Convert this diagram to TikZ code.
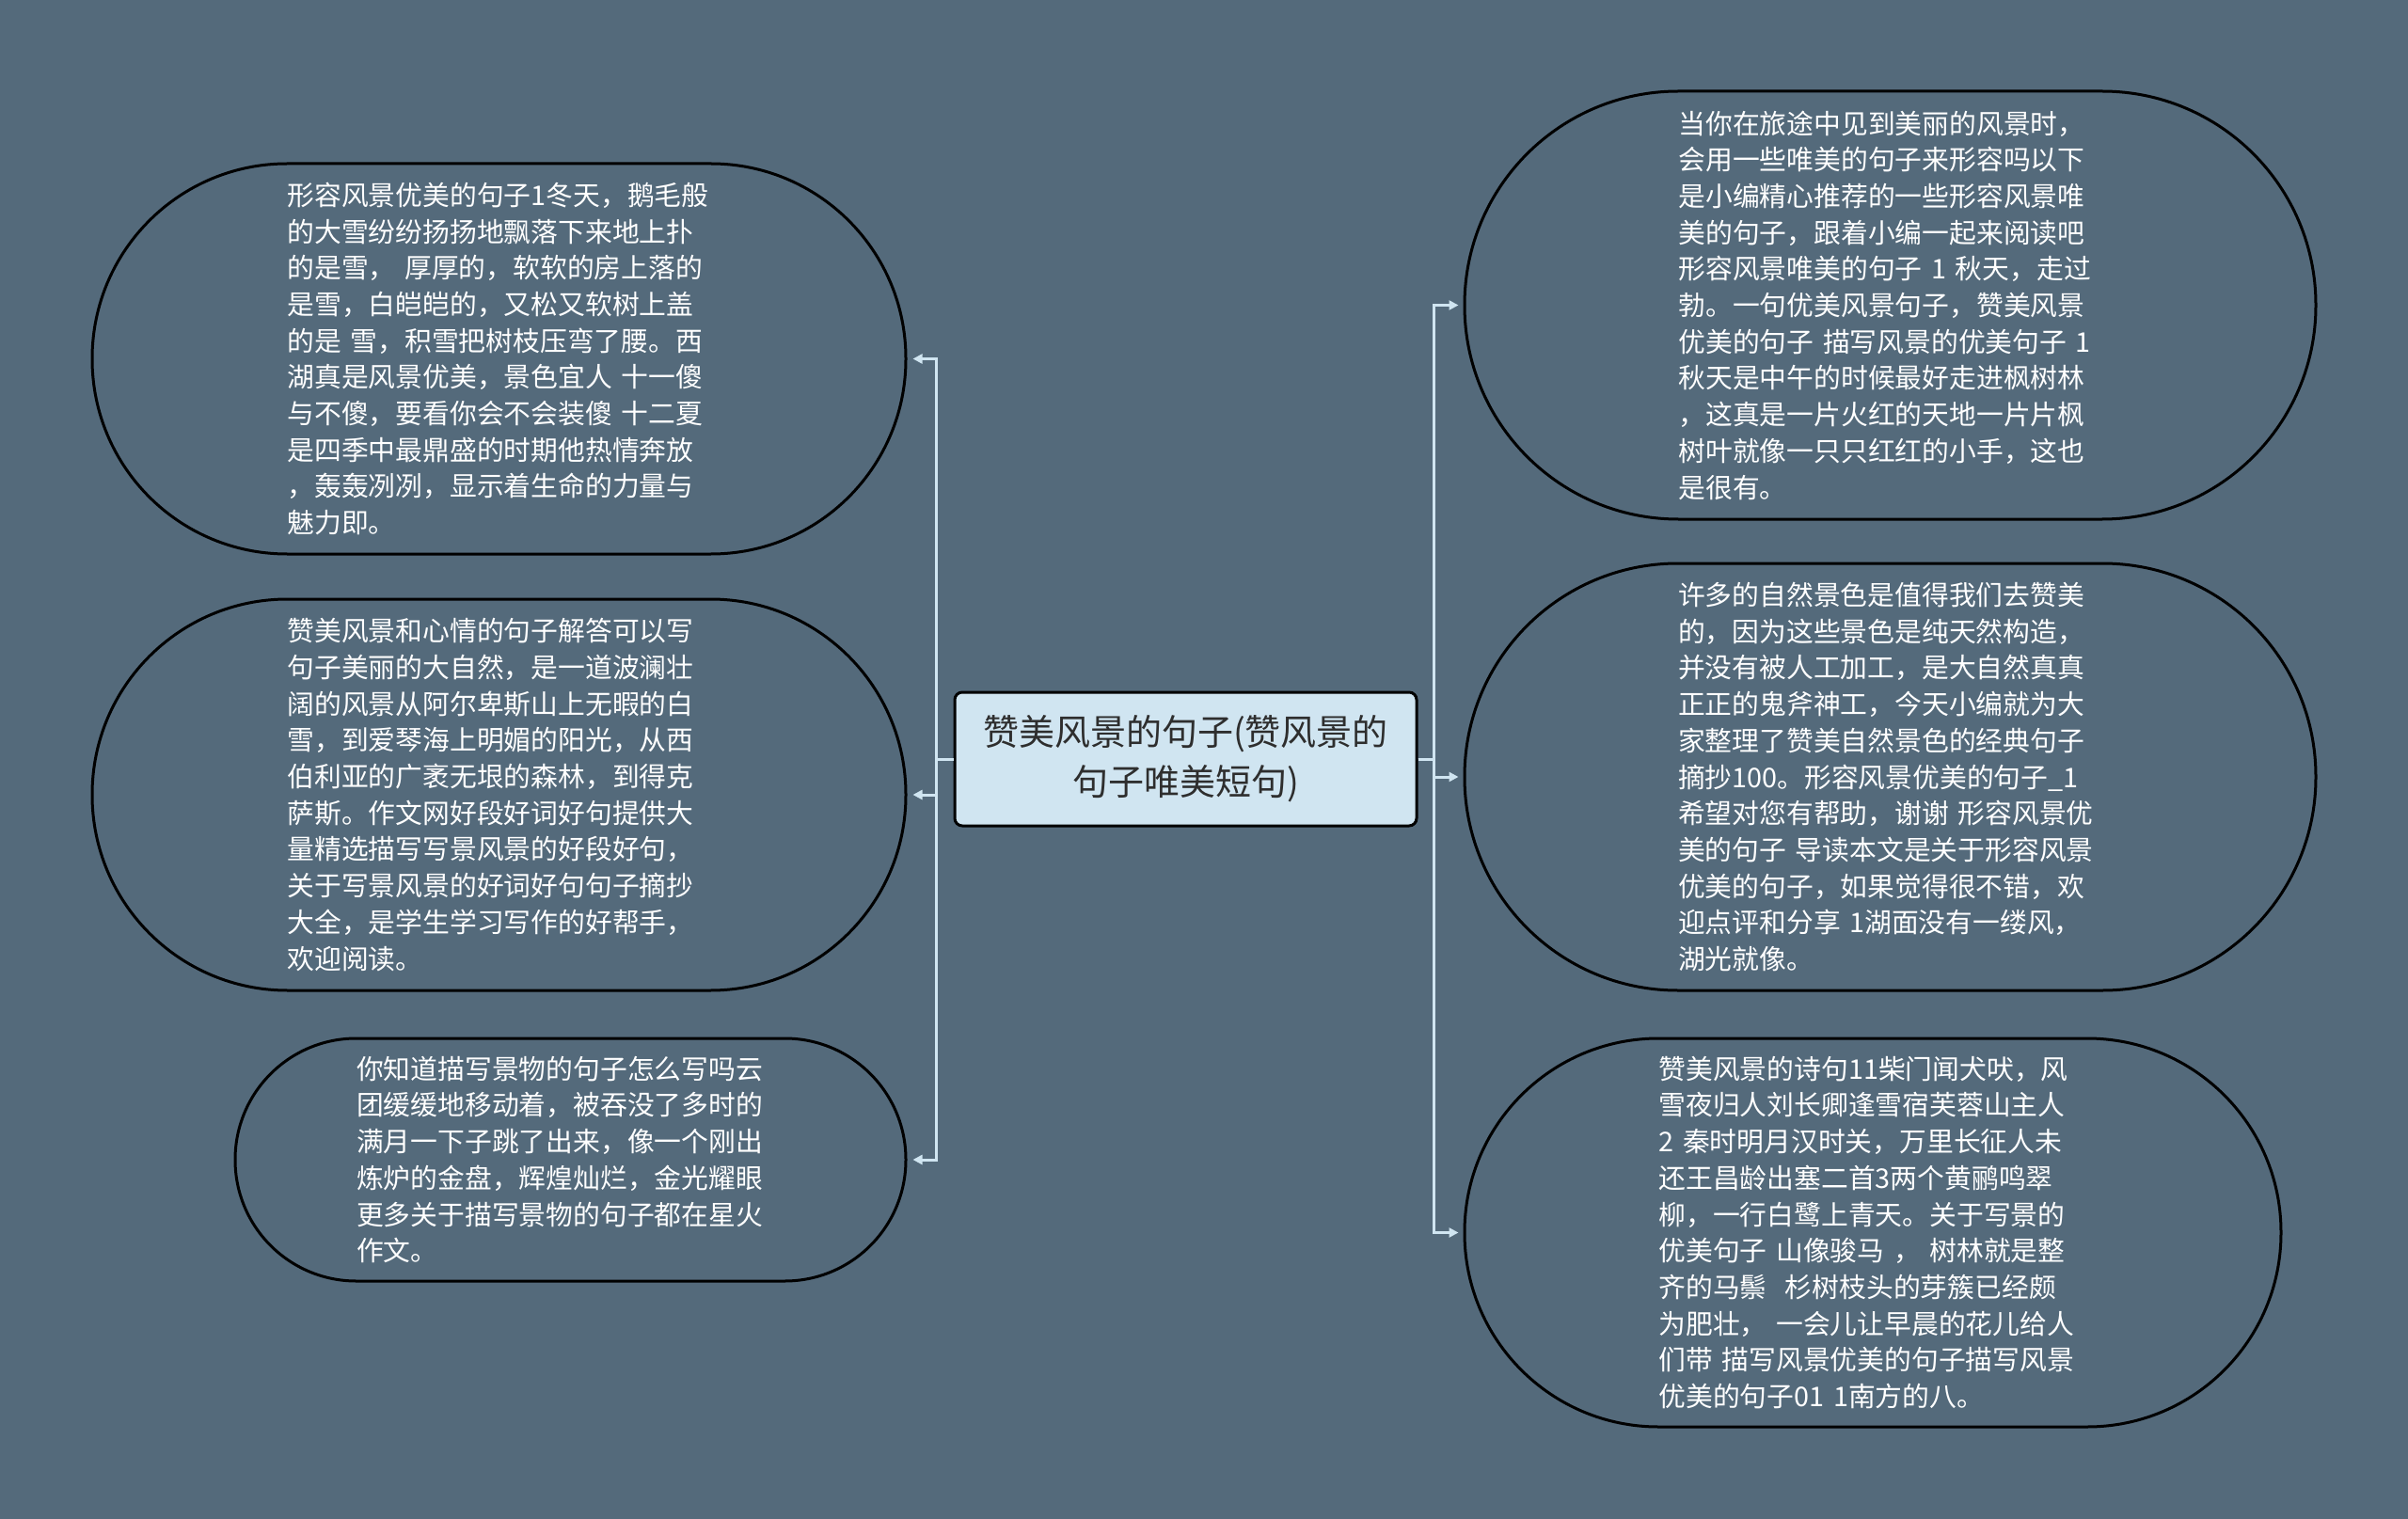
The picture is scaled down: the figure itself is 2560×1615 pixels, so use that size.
\documentclass[tikz,border=0pt]{standalone}
\usepackage{fontspec}
\setmainfont{Noto Sans CJK SC}
\usetikzlibrary{arrows.meta}

\definecolor{bgblue}{HTML}{546A7B}
\definecolor{paleblue}{HTML}{D0E5F1}
\definecolor{darktext}{HTML}{2E2E2E}

\tikzset{
  topic/.style={draw=black, line width=1.5pt, fill=paleblue, rounded corners=4pt,
    text=darktext, align=center, minimum width=245.5pt, minimum height=71pt,
    font=\fontsize{19pt}{26.5pt}\selectfont},
  leaf/.style n args={3}{rectangle, draw=black, line width=1.5pt, text=white,
    align=left, inner sep=0pt, text width=#1, minimum width=#2, minimum height=#3,
    rounded corners={0.499*#3},
    font=\fontsize{14.4pt}{19.35pt}\selectfont},
  link/.style={draw=paleblue, line width=1.5pt, -{Triangle[length=5pt,width=5pt]}},
}

\begin{document}
\begin{tikzpicture}[x=0.5pt,y=-0.5pt]

\fill[bgblue] (0,0) rectangle (2560,1615);
\useasboundingbox (0,0) rectangle (2560,1615);

% centre
\node[topic] (main) at (1260.5,807) {赞美风景的句子(赞风景的\\句子唯美短句)};

% left side
\node[leaf={225pt}{432.5pt}{207.5pt}] (l1) at (530.5,381.5) {形容风景优美的句子1冬天，鹅毛般\\的大雪纷纷扬扬地飘落下来地上扑\\的是雪， 厚厚的，软软的房上落的\\是雪，白皑皑的，又松又软树上盖\\的是 雪，积雪把树枝压弯了腰。西\\湖真是风景优美，景色宜人 十一傻\\与不傻，要看你会不会装傻 十二夏\\是四季中最鼎盛的时期他热情奔放\\，轰轰冽冽，显示着生命的力量与\\魅力即。};
\node[leaf={225pt}{432.5pt}{208pt}] (l2) at (530.5,845) {赞美风景和心情的句子解答可以写\\句子美丽的大自然，是一道波澜壮\\阔的风景从阿尔卑斯山上无暇的白\\雪，到爱琴海上明媚的阳光，从西\\伯利亚的广袤无垠的森林，到得克\\萨斯。作文网好段好词好句提供大\\量精选描写写景风景的好段好句，\\关于写景风景的好词好句句子摘抄\\大全，是学生学习写作的好帮手，\\欢迎阅读。};
\node[leaf={227.5pt}{356.5pt}{129pt}] (l3) at (606.5,1233) {你知道描写景物的句子怎么写吗云\\团缓缓地移动着，被吞没了多时的\\满月一下子跳了出来，像一个刚出\\炼炉的金盘，辉煌灿烂，金光耀眼\\更多关于描写景物的句子都在星火\\作文。};

% right side
\node[leaf={225pt}{452.5pt}{227.5pt}] (r1) at (2009.5,324.5) {当你在旅途中见到美丽的风景时，\\会用一些唯美的句子来形容吗以下\\是小编精心推荐的一些形容风景唯\\美的句子，跟着小编一起来阅读吧\\形容风景唯美的句子 1 秋天，走过\\勃。一句优美风景句子，赞美风景\\优美的句子 描写风景的优美句子 1\\秋天是中午的时候最好走进枫树林\\，这真是一片火红的天地一片片枫\\树叶就像一只只红红的小手，这也\\是很有。};
\node[leaf={225.5pt}{452.5pt}{227pt}] (r2) at (2009.5,826) {许多的自然景色是值得我们去赞美\\的，因为这些景色是纯天然构造，\\并没有被人工加工，是大自然真真\\正正的鬼斧神工，今天小编就为大\\家整理了赞美自然景色的经典句子\\摘抄100。形容风景优美的句子\_1\\希望对您有帮助，谢谢 形容风景优\\美的句子 导读本文是关于形容风景\\优美的句子，如果觉得很不错，欢\\迎点评和分享 1湖面没有一缕风，\\湖光就像。};
\node[leaf={227.5pt}{434pt}{206.5pt}] (r3) at (1991,1310.5) {赞美风景的诗句11柴门闻犬吠，风\\雪夜归人刘长卿逢雪宿芙蓉山主人\\2 秦时明月汉时关，万里长征人未\\还王昌龄出塞二首3两个黄鹂鸣翠\\柳，一行白鹭上青天。关于写景的\\优美句子 山像骏马 ， 树林就是整\\齐的马鬃\ \ 杉树枝头的芽簇已经颇\\为肥壮，\ 一会儿让早晨的花儿给人\\们带 描写风景优美的句子描写风景\\优美的句子01 1南方的八。};

% connectors
\draw[link, shorten >=3pt] (main.west) -- ++(-18,0) |- (l1.east);
\draw[link, shorten >=3pt] (main.west) -- ++(-18,0) |- (l2.east);
\draw[link, shorten >=3pt] (main.west) -- ++(-18,0) |- (l3.east);

\draw[link, shorten >=2.5pt] (main.east) -- ++(17,0) |- (r1.west);
\draw[link, shorten >=2.5pt] (main.east) -- ++(17,0) |- (r2.west);
\draw[link, shorten >=2.5pt] (main.east) -- ++(17,0) |- (r3.west);

\end{tikzpicture}
\end{document}
